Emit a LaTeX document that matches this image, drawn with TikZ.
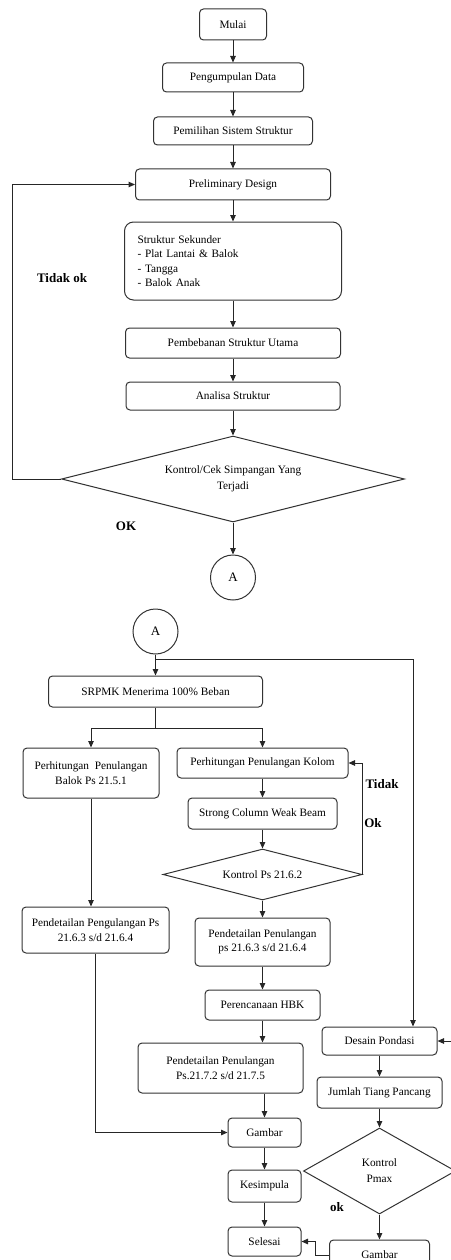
\documentclass[tikz,border=0pt]{standalone}
\usepackage{fontspec}
\setmainfont{Liberation Serif}
\usetikzlibrary{positioning,shapes.geometric,arrows.meta}

\begin{document}
\begin{tikzpicture}[
        x=1pt, y=1pt,
        block/.style={rectangle, rounded corners=4pt, draw=black!80, line width=1pt, align=center, inner sep=2pt, font=\fontsize{11.3}{14.5}\selectfont},
        decision/.style={diamond, draw=black!80, line width=1pt, align=center, inner sep=2pt, font=\fontsize{11.3}{16}\selectfont},
        connector/.style={circle, draw=black!80, line width=1pt, minimum size=45pt, font=\fontsize{13}{15}\selectfont},
        note/.style={font=\fontsize{13}{15}\selectfont\bfseries},
        line/.style={draw=black!85, line width=1pt},
        arrow/.style={line, -{Triangle[length=6.5pt,width=5.5pt]}},
        node distance=22pt
    ]

    \useasboundingbox (0,0) rectangle (450,-1260);

    %first part
    \node[block, minimum width=67pt, minimum height=31pt]   (mulai)    at (233,-24.5)        {Mulai};
    \node[block, minimum width=141pt, minimum height=29pt]  (data)     [below=22pt of mulai] {Pengumpulan Data};
    \node[block, minimum width=159pt, minimum height=28pt]  (sistem)   [below=24pt of data]  {Pemilihan Sistem Struktur};
    \node[block, minimum width=195pt, minimum height=31pt]  (prelim)   [below=23pt of sistem] {Preliminary Design};
    \node[block, minimum width=217pt, minimum height=78pt, text width=191pt, align=left, rounded corners=9pt]
                                                            (sekunder) [below=21pt of prelim] {Struktur Sekunder\\- Plat Lantai \& Balok\\- Tangga\\- Balok Anak};
    \node[block, minimum width=215pt, minimum height=30pt]  (utama)    [below=27pt of sekunder] {Pembebanan Struktur Utama};
    \node[block, minimum width=214pt, minimum height=28pt]  (analisa)  [below=23pt of utama] {Analisa Struktur};
    \node[decision, minimum width=343pt, minimum height=86pt, aspect=4]
                                                            (cek)      [below=25pt of analisa] {Kontrol/Cek Simpangan Yang\\Terjadi};
    \node[connector]                                        (A1)       [below=32pt of cek]   {A};

    %labels
    \node[note] (tidakok) at (62,-278)  {Tidak ok};
    \node[note] (ok1)     at (126,-526) {OK};

    %arrows
    \draw[arrow] (mulai) -- (data);
    \draw[arrow] (data) -- (sistem);
    \draw[arrow] (sistem) -- (prelim);
    \draw[arrow] (prelim) -- (sekunder);
    \draw[arrow] (sekunder) -- (utama);
    \draw[arrow] (utama) -- (analisa);
    \draw[arrow] (analisa) -- (cek);
    \draw[arrow] (cek) -- (A1);

    %feedback loop
    \draw[arrow] (cek.west) -- ++(-49,0) |- (prelim.west);

    %second part
    \node[connector]                                        (A2)       at (155.5,-631.5)     {A};
    \node[block, minimum width=214pt, minimum height=31pt]  (srpmk)    [below=21pt of A2]    {SRPMK Menerima 100\% Beban};
    \node[block, minimum width=136pt, minimum height=50pt]  (balok)    at (91,-773)          {Perhitungan\ \ Penulangan\\Balok Ps 21.5.1};
    \node[block, minimum width=171pt, minimum height=30pt]  (kolom)    at (262.5,-763)       {Perhitungan Penulangan Kolom};
    \node[block, minimum width=149pt, minimum height=31pt]  (scwb)     [below=19pt of kolom] {Strong Column Weak Beam};
    \node[decision, minimum width=199pt, minimum height=51pt, aspect=4]
                                                            (ctrlps)   [below=19pt of scwb]  {Kontrol Ps 21.6.2};
    \node[block, minimum width=135pt, minimum height=48pt]  (detkolom) [below=17pt of ctrlps] {Pendetailan Penulangan\\ps 21.6.3 s/d 21.6.4};
    \node[block, minimum width=115pt, minimum height=30pt]  (hbk)      [below=23pt of detkolom] {Perencanaan HBK};
    \node[block, minimum width=165pt, minimum height=50pt]  (dethbk)   [below=22pt of hbk, xshift=-42pt] {Pendetailan Penulangan\\Ps.21.7.2 s/d 21.7.5};
    \node[block, minimum width=73pt, minimum height=29pt]   (gambar)   [below=24pt of dethbk, xshift=44pt] {Gambar};
    \node[block, minimum width=73pt, minimum height=32pt]   (kesimpulan) [below=22pt of gambar] {Kesimpula};
    \node[block, minimum width=73pt, minimum height=29pt]   (selesai)  [below=24pt of kesimpulan] {Selesai};
    \node[block, minimum width=147pt, minimum height=46pt]  (detbalok) at (95.5,-930)        {Pendetailan Pengulangan Ps\\21.6.3 s/d 21.6.4};
    \node[block, minimum width=115pt, minimum height=28pt]  (desain)   at (379.5,-1041)      {Desain Pondasi};
    \node[block, minimum width=125pt, minimum height=31pt]  (jumlah)   [below=21pt of desain] {Jumlah Tiang Pancang};
    \node[decision, minimum width=152pt, minimum height=86pt, aspect=2]
                                                            (pmax)     [below=19pt of jumlah] {Kontrol\\Pmax};
    \node[block, minimum width=100pt, minimum height=30pt]  (gambarb)  [below=25pt of pmax]  {Gambar};

    %labels
    \node[note] (tidak) at (382,-784)  {Tidak};
    \node[note] (ok2)   at (373,-823)  {Ok};
    \node[note] (ok3)   at (337,-1207) {ok};

    %arrows
    \draw[arrow] (A2) -- (srpmk);
    \draw[arrow] (A2.south) ++(0,-5) -| ([xshift=33.5pt]desain.north);
    \draw[line]  (srpmk.south) -- ++(0,-21) coordinate (fork);
    \draw[arrow] (fork) -| (balok.north);
    \draw[arrow] (fork) -| (kolom.north);
    \draw[arrow] (kolom) -- (scwb);
    \draw[arrow] (scwb) -- (ctrlps);
    \draw[arrow] (ctrlps) -- (detkolom);
    \draw[arrow] (detkolom) -- (hbk);
    \draw[arrow] (hbk.south) -- (hbk.south |- dethbk.north);
    \draw[arrow] (gambar.north |- dethbk.south) -- (gambar.north);
    \draw[arrow] (gambar) -- (kesimpulan);
    \draw[arrow] (kesimpulan) -- (selesai);
    \draw[arrow] (balok.south) -- (balok.south |- detbalok.north);
    \draw[arrow] (detbalok.south) |- (gambar.west);
    \draw[arrow] (desain) -- (jumlah);
    \draw[arrow] (jumlah) -- (pmax);
    \draw[arrow] (pmax) -- (gambarb);

    %feedback loops
    \draw[arrow] (ctrlps.east) |- (kolom.east);
    \draw[arrow] (gambarb.west) -- ++(-14,0) |- (selesai.east);
    \draw[arrow] (pmax.east) -- ++(10,0) |- (desain.east);

\end{tikzpicture}
\end{document}
